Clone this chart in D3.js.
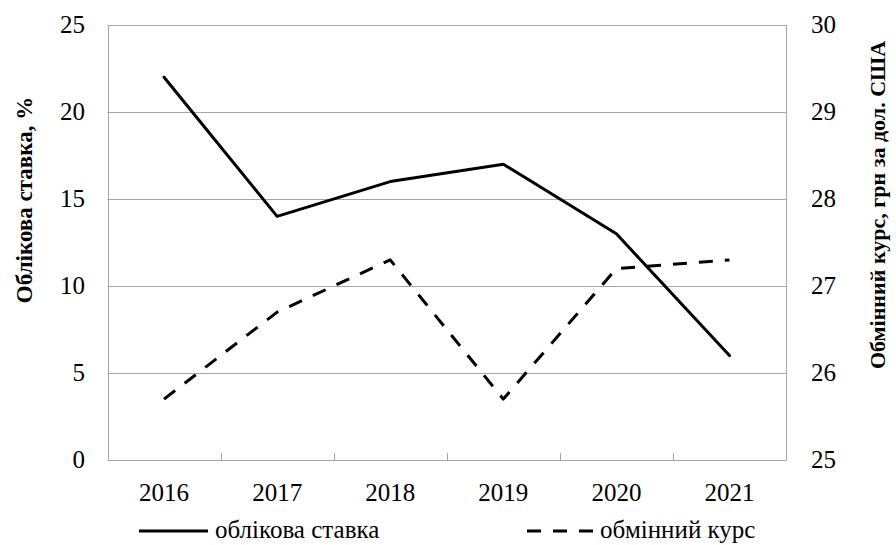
<!DOCTYPE html>
<html>
<head>
<meta charset="utf-8">
<script src="https://cdn.jsdelivr.net/npm/d3@7"></script>
<style>
  html, body { margin: 0; padding: 0; background: #fff; }
  svg text { font-family: "Liberation Serif", "Times New Roman", "DejaVu Serif", serif; fill: #000; }
</style>
</head>
<body>
<svg id="chart" width="896" height="545"></svg>
<script>
const years = ["2016", "2017", "2018", "2019", "2020", "2021"];
const discountRate = [22, 14, 16, 17, 13, 6];
const exchangeRate = [25.7, 26.7, 27.3, 25.7, 27.2, 27.3];
const leftTicks = [0, 5, 10, 15, 20, 25];
const rightTicks = [25, 26, 27, 28, 29, 30];
const leftTitle = "Облікова ставка, %";
const rightTitle = "Обмінний курс, грн за дол. США";
const seriesNames = ["облікова ставка", "обмінний курс"];

const svg = d3.select("#chart");
const m = { left: 107.5, right: 786, top: 25, bottom: 460 };

const x = d3.scaleBand().domain(years).range([m.left, m.right]).padding(0);
const yL = d3.scaleLinear().domain([0, 25]).range([m.bottom, m.top]);
const yR = d3.scaleLinear().domain([25, 30]).range([m.bottom, m.top]);
const grid = "#a6a6a6";
const fs = 25;
const tfs = 22;
const dash = "14,12";

svg.append("g").selectAll("line").data(leftTicks).join("line")
  .attr("x1", m.left).attr("x2", m.right)
  .attr("y1", d => Math.round(yL(d)) + 0.5).attr("y2", d => Math.round(yL(d)) + 0.5)
  .attr("stroke", grid).attr("stroke-width", 1);

[m.left, m.right].forEach(px => {
  svg.append("line").attr("x1", Math.round(px) + 0.5).attr("x2", Math.round(px) + 0.5)
    .attr("y1", m.top).attr("y2", m.bottom + 0.5).attr("stroke", grid);
});

svg.append("g").selectAll("line").data(years.slice(1)).join("line")
  .attr("x1", d => Math.round(x(d)) + 0.5).attr("x2", d => Math.round(x(d)) + 0.5)
  .attr("y1", m.bottom).attr("y2", m.bottom - 7)
  .attr("stroke", grid);

svg.append("g").selectAll("text").data(leftTicks).join("text")
  .attr("x", 85).attr("y", d => yL(d)).attr("dy", "0.33em")
  .attr("text-anchor", "end").attr("font-size", fs).text(d => d);

svg.append("g").selectAll("text").data(rightTicks).join("text")
  .attr("x", 811).attr("y", d => yR(d)).attr("dy", "0.33em")
  .attr("text-anchor", "start").attr("font-size", fs).text(d => d);

svg.append("g").selectAll("text").data(years).join("text")
  .attr("x", d => x(d) + x.bandwidth() / 2).attr("y", 501)
  .attr("text-anchor", "middle").attr("font-size", fs).text(d => d);

svg.append("text").attr("transform", "translate(32,200) rotate(-90)")
  .attr("text-anchor", "middle").attr("font-size", 23).attr("font-weight", "bold").text(leftTitle);
svg.append("text").attr("transform", "translate(885,205) rotate(-90)")
  .attr("text-anchor", "middle").attr("font-size", tfs).attr("font-weight", "bold").text(rightTitle);

const cx = d => x(d) + x.bandwidth() / 2;
const lineL = d3.line().x((d, i) => cx(years[i])).y(d => yL(d));
const lineR = d3.line().x((d, i) => cx(years[i])).y(d => yR(d));

svg.append("path").datum(discountRate).attr("d", lineL)
  .attr("fill", "none").attr("stroke", "#000").attr("stroke-width", 3)
  .attr("stroke-linejoin", "round").attr("stroke-linecap", "round");
svg.append("path").datum(exchangeRate).attr("d", lineR)
  .attr("fill", "none").attr("stroke", "#000").attr("stroke-width", 3)
  .attr("stroke-dasharray", dash).attr("stroke-linejoin", "round");

const ly = 531;
svg.append("line").attr("x1", 139).attr("x2", 208).attr("y1", ly).attr("y2", ly)
  .attr("stroke", "#000").attr("stroke-width", 3);
svg.append("text").attr("x", 215).attr("y", ly).attr("dy", "0.28em")
  .attr("font-size", fs).text(seriesNames[0]);
svg.append("line").attr("x1", 527).attr("x2", 593).attr("y1", ly).attr("y2", ly)
  .attr("stroke", "#000").attr("stroke-width", 3).attr("stroke-dasharray", dash);
svg.append("text").attr("x", 600).attr("y", ly).attr("dy", "0.28em")
  .attr("font-size", fs).text(seriesNames[1]);
</script>
</body>
</html>
